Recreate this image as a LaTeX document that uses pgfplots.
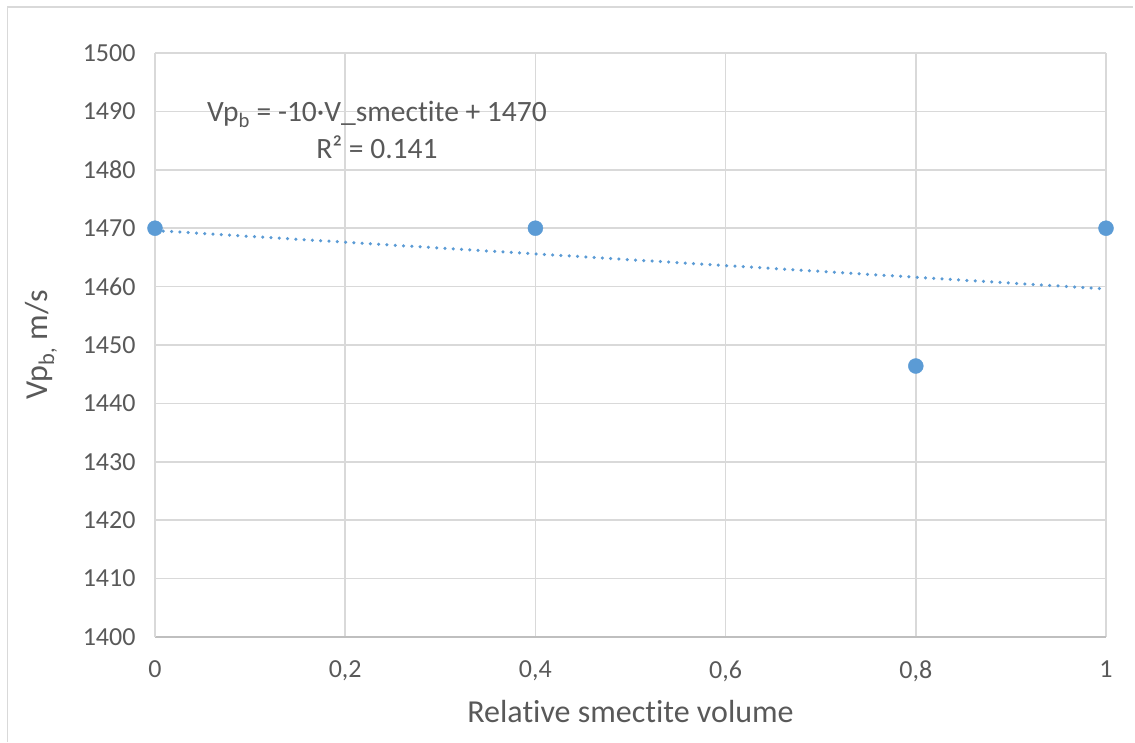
\documentclass[border=0pt]{standalone}
\usepackage{fontspec}
\setmainfont[Ligatures=NoCommon]{Carlito}
\usepackage{pgfplots}
\pgfplotsset{compat=1.18}
\definecolor{gridgray}{HTML}{D9D9D9}
\definecolor{axisgray}{HTML}{BFBFBF}
\definecolor{textgray}{HTML}{595959}
\definecolor{ptblue}{HTML}{5B9BD5}
\begin{document}
\begin{tikzpicture}
% canvas and chart-area frame
\path (0pt,0pt) rectangle (1135pt,742pt);
\draw[gridgray, line width=1.5pt] (7.5pt,0pt) -- (7.5pt,735pt) -- (1133pt,735pt);
\begin{axis}[
  at={(155pt,105pt)}, anchor=south west,
  scale only axis, width=951pt, height=584pt,
  xmin=0, xmax=1, ymin=1400, ymax=1500,
  xtick={0,0.2,0.4,0.6,0.8,1},
  xticklabels={0,{0,2},{0,4},{0,6},{0,8},1},
  ytick={1400,1410,...,1500},
  /pgf/number format/assume math mode=true,
  /pgf/number format/set thousands separator={},
  axis x line*=bottom, axis y line*=left,
  x axis line style={draw=axisgray, line width=1.5pt},
  y axis line style={draw=gridgray, line width=1.5pt},
  major tick length=0pt,
  grid=major,
  major grid style={draw=gridgray, line width=1.5pt},
  tick label style={font=\fontsize{26}{30}\selectfont, text=textgray},
  yticklabel style={xshift=-16pt},
  xticklabel style={yshift=-20pt},
  xlabel={Relative smectite volume},
  ylabel={Vp\textsubscript{b,} m/s},
  every axis x label/.style={at={(axis description cs:0.5,-0.128)}, anchor=center,
    font=\fontsize{32}{38}\selectfont, text=textgray},
  every axis y label/.style={at={(axis description cs:-0.12,0.5)}, rotate=90, anchor=center,
    font=\fontsize{32}{38}\selectfont, text=textgray},
  clip=false,
]
% linear trend line (least squares fit of the four points)
\addplot[ptblue, line width=3.5pt, line cap=round, dash pattern=on 0pt off 8.3pt]
  coordinates {(0,1469.6) (1,1459.6)};
% measured points
\addplot[only marks, mark=*, mark size=7.5pt, mark options={draw=ptblue, fill=ptblue}]
  coordinates {(0,1470) (0.4,1470) (0.8,1446.4) (1,1470)};
\node[align=center, text=textgray, font=\fontsize{29.5}{37}\selectfont]
  at (axis cs:0.2334,1486.8)
  {Vp\textsubscript{b} = -10·V\_smectite + 1470\\R² = 0.141};
\end{axis}
\end{tikzpicture}
\end{document}
